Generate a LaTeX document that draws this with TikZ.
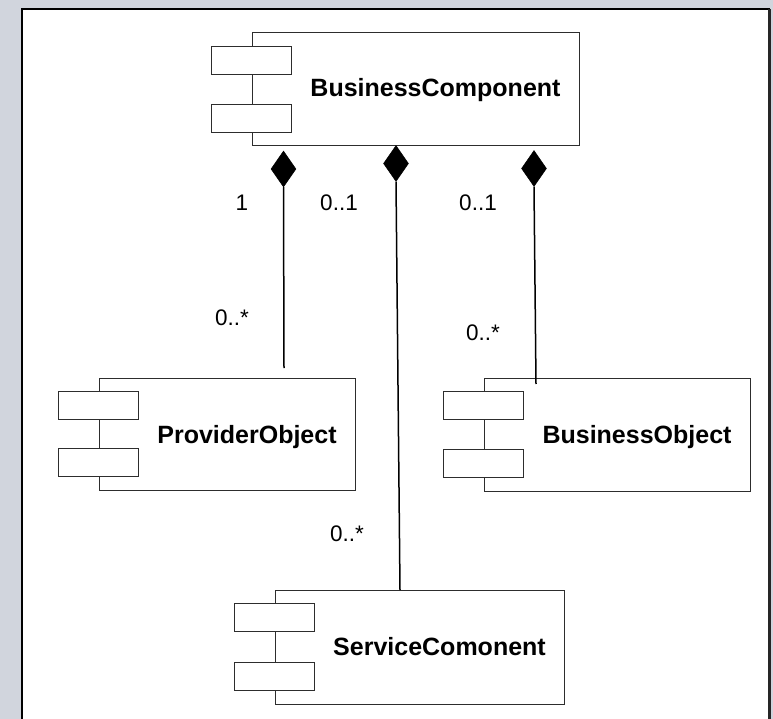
\documentclass[tikz,border=0pt]{standalone}
\usepackage{fontspec}
\setmainfont{Liberation Sans}
\usetikzlibrary{shapes.geometric}
\definecolor{pagegray}{RGB}{209,213,221}
\definecolor{edgegray}{RGB}{45,45,45}
% two port tabs straddling the left edge of a component box
\newcommand\comptabs[1]{%
  \draw[comptab] ([xshift=-40pt,yshift=-14pt]#1.north west) rectangle ([xshift=40pt,yshift=-42pt]#1.north west);
  \draw[comptab] ([xshift=-40pt,yshift=14pt]#1.south west) rectangle ([xshift=40pt,yshift=42pt]#1.south west);
}
\begin{document}
\begin{tikzpicture}[x=1pt,y=-1pt,
  compbox/.style={draw=edgegray, line width=1pt, fill=white, minimum height=113pt, inner sep=0pt},
  comptab/.style={draw=edgegray, line width=1pt, fill=white},
  compname/.style={font=\fontsize{25}{30}\selectfont\bfseries, anchor=base, inner sep=0pt},
  mult/.style={font=\fontsize{22.5}{27}\selectfont, inner sep=0pt},
  compose/.style={diamond, fill=black, draw=black, line width=0.5pt, minimum width=25pt, minimum height=36pt, inner sep=0pt},
  assoc/.style={draw=black, line width=1.5pt},
]
\useasboundingbox (0,0) rectangle (773,719);
% page background and white sheet
\begin{scope}
  \clip (0,0) rectangle (773,719);
  \fill[pagegray] (0,0) rectangle (773,719);
  \draw[black, line width=1.5pt, fill=white] (22,9) rectangle (769.5,740);
  \draw[black!85, line width=2.5pt] (769.5,9) -- (769.5,740);
\end{scope}

% components
\node[compbox, minimum width=327pt] (bc) at (415.5,89.5) {};
\node[compbox, minimum width=256pt, minimum height=112pt] (po) at (227,434) {};
\node[compbox, minimum width=266pt] (bo) at (617,434.5) {};
\node[compbox, minimum width=289pt, minimum height=114pt] (sc) at (419.5,647) {};
\comptabs{bc}
\comptabs{po}
\comptabs{bo}
\comptabs{sc}
\node[compname] (bcname) at (435.5,97) {BusinessComponent};
\node[compname] (poname) at (247,443) {ProviderObject};
\node[compname] (boname) at (637,443) {BusinessObject};
\node[compname] (scname) at (439.5,655) {ServiceComonent};

% composition diamonds on the owner
\node[compose] (dm1) at (283.5,169) {};
\node[compose] (dm2) at (396,163.5) {};
\node[compose] (dm3) at (534,168.5) {};

% free ends of the composition lines
\coordinate (e1) at (284,368);
\coordinate (e2) at (400,590);
\coordinate (e3) at (536,384);
\draw[assoc] (dm1.south) -- (e1);
\draw[assoc] (dm2.south) -- (e2);
\draw[assoc] (dm3.south) -- (e3);

% multiplicities
\node[mult] (m1) at (242,203) {1};
\node[mult] (m2) at (339,203) {0..1};
\node[mult] (m3) at (478,203) {0..1};
\node[mult] (m4) at (232,318) {0..*};
\node[mult] (m5) at (483,333) {0..*};
\node[mult] (m6) at (347,534) {0..*};
\end{tikzpicture}
\end{document}
